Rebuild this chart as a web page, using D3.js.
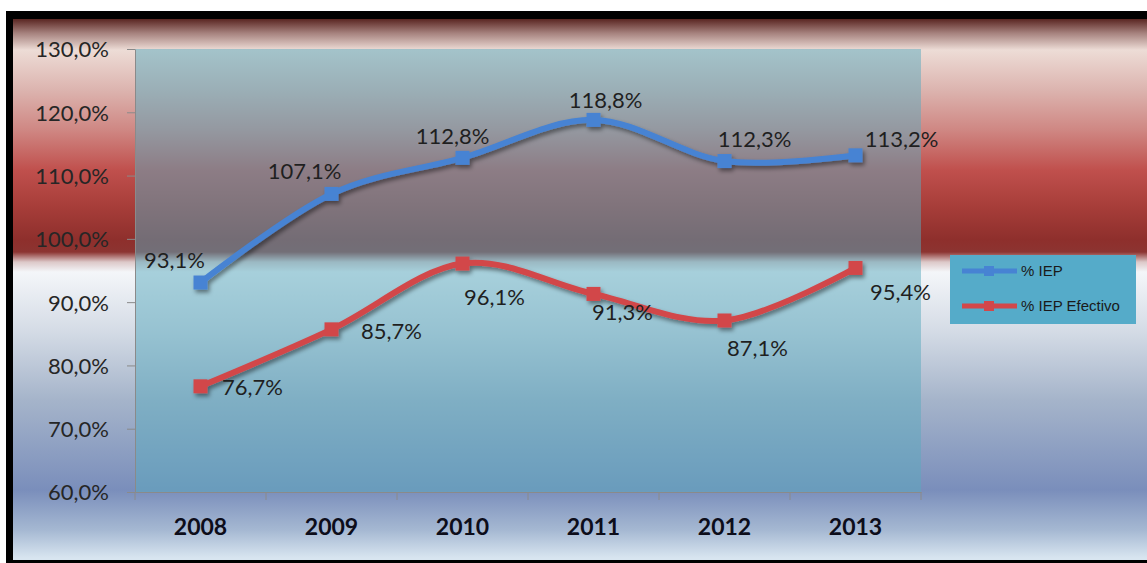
<!DOCTYPE html>
<html>
<head>
<meta charset="utf-8">
<script src="https://cdn.jsdelivr.net/npm/d3@7/dist/d3.min.js"></script>
<style>
  html, body { margin: 0; padding: 0; background: #ffffff; }
  svg { display: block; }
</style>
</head>
<body>
<svg id="chart" width="1147" height="563"></svg>
<script>
// ---- data ----
const years = ["2008", "2009", "2010", "2011", "2012", "2013"];
const iep = [93.1, 107.1, 112.8, 118.8, 112.3, 113.2];
const iepEfectivo = [76.7, 85.7, 96.1, 91.3, 87.1, 95.4];
const yTickValues = [60, 70, 80, 90, 100, 110, 120, 130];
const seriesNames = ["% IEP", "% IEP Efectivo"];

// label offsets (layout, not data)
const iepLabelOffset = [[-26, -15], [-27, -15], [-10, -14], [12, -12], [30, -14], [46, -8]];
const efLabelOffset = [[52, 9], [60, 10], [32, 41], [29, 26], [33, 36], [45, 32]];

const svg = d3.select("#chart");
const W = 1147, H = 563;
const plot = { left: 135, right: 921, top: 49, bottom: 492 };

const locale = d3.formatLocale({ decimal: ",", thousands: ".", grouping: [3], currency: ["", "€"] });
const fmt = v => locale.format(".1f")(v) + "%";

const defs = svg.append("defs");
const bg = defs.append("linearGradient").attr("id", "bgGrad")
  .attr("gradientUnits", "userSpaceOnUse").attr("x1", 0).attr("x2", 0).attr("y1", 19).attr("y2", 560);
const bgStops = [
  [19, "#5a2622"], [33, "#a5817d"], [50, "#eddcd6"], [90, "#dcb4af"], [130, "#cf8783"],
  [170, "#c0504d"], [205, "#a83e3a"], [240, "#8e2f2c"], [252, "#8c3431"], [262, "#dcc8c8"],
  [272, "#f4f6f9"], [330, "#d5dce6"], [400, "#a5b4ca"], [490, "#7a8ebb"], [530, "#a5b8d2"], [558, "#d8e5f0"]
];
bgStops.forEach(s => bg.append("stop").attr("offset", (s[0] - 19) / 541).attr("stop-color", s[1]));

const shadow = defs.append("filter").attr("id", "shadow").attr("x", "-10%").attr("y", "-10%").attr("width", "130%").attr("height", "140%");
shadow.append("feDropShadow").attr("dx", 2).attr("dy", 3).attr("stdDeviation", 2)
  .attr("flood-color", "#000").attr("flood-opacity", 0.45);

// frame
svg.append("rect").attr("x", 6).attr("y", 11).attr("width", W).attr("height", 552).attr("fill", "#000");
svg.append("rect").attr("x", 13).attr("y", 19).attr("width", W).attr("height", 541).attr("fill", "url(#bgGrad)");

// plot area overlay
svg.append("rect").attr("x", plot.left).attr("y", plot.top)
  .attr("width", plot.right - plot.left).attr("height", plot.bottom - plot.top)
  .attr("fill", "#5aaabd").attr("fill-opacity", 0.5);

const x = d3.scaleBand().domain(years).range([plot.left, plot.right]);
const cx = d => x(d) + x.bandwidth() / 2;
const y = d3.scaleLinear().domain([60, 130]).range([plot.bottom, plot.top]);

// y axis
const yAxis = svg.append("g").attr("transform", `translate(${plot.left},0)`)
  .call(d3.axisLeft(y).tickValues(yTickValues).tickFormat(fmt).tickSize(8).tickSizeOuter(0).tickPadding(18));
yAxis.select(".domain").attr("stroke", "#8a8a8a").attr("stroke-width", 1);
yAxis.selectAll(".tick line").attr("stroke", "#8a8a8a");
yAxis.selectAll(".tick text").attr("font-family", "Lato, 'Open Sans', sans-serif").attr("font-size", 22)
  .attr("fill", "#262626").attr("dy", "0.36em");

// x axis
const xAxis = svg.append("g").attr("transform", `translate(0,${plot.bottom})`)
  .call(d3.axisBottom(x).tickSize(0).tickSizeOuter(0).tickPadding(27));
xAxis.select(".domain").attr("stroke", "#8a8a8a").attr("stroke-width", 1);
xAxis.selectAll(".tick text").attr("font-family", "Lato, 'Open Sans', sans-serif").attr("font-size", 23)
  .attr("font-weight", "bold").attr("fill", "#0d0d1a");
const bounds = years.map(d => x(d)).concat([x.range()[1]]);
xAxis.selectAll("line.bound").data(bounds).join("line").attr("class", "bound")
  .attr("x1", d => d).attr("x2", d => d).attr("y1", 0).attr("y2", 8)
  .attr("stroke", "#8a8a8a").attr("stroke-width", 1);

// series
const series = [
  { name: seriesNames[0], values: iep, color: "#4783d3", offsets: iepLabelOffset },
  { name: seriesNames[1], values: iepEfectivo, color: "#d2474a", offsets: efLabelOffset }
];
const line = d3.line().x((v, i) => cx(years[i])).y(v => y(v)).curve(d3.curveCardinal.tension(0));
const ms = 14;

series.forEach(s => {
  const g = svg.append("g").attr("filter", "url(#shadow)");
  g.append("path").attr("d", line(s.values)).attr("fill", "none")
    .attr("stroke", s.color).attr("stroke-width", 6).attr("stroke-linecap", "round");
  g.selectAll("rect").data(s.values).join("rect")
    .attr("x", (v, i) => cx(years[i]) - ms / 2).attr("y", v => y(v) - ms / 2)
    .attr("width", ms).attr("height", ms).attr("fill", s.color);
});

series.forEach(s => {
  svg.append("g").selectAll("text").data(s.values).join("text")
    .attr("x", (v, i) => cx(years[i]) + s.offsets[i][0])
    .attr("y", (v, i) => y(v) + s.offsets[i][1])
    .attr("text-anchor", "middle")
    .attr("font-family", "Lato, 'Open Sans', sans-serif").attr("font-size", 22)
    .attr("fill", "#1f1f1f")
    .text(v => fmt(v));
});

// legend
const leg = svg.append("g").attr("transform", "translate(950,255)");
leg.append("rect").attr("width", 186).attr("height", 69).attr("fill", "#55abc9");
series.forEach((s, i) => {
  const ly = 16 + i * 35;
  leg.append("line").attr("x1", 12).attr("x2", 67).attr("y1", ly).attr("y2", ly)
    .attr("stroke", s.color).attr("stroke-width", 5);
  leg.append("rect").attr("x", 34).attr("y", ly - 5).attr("width", 10).attr("height", 10).attr("fill", s.color);
  leg.append("text").attr("x", 71).attr("y", ly).attr("dy", "0.35em")
    .attr("font-family", "'Liberation Sans', Arial, sans-serif").attr("font-size", 15)
    .attr("fill", "#1a1a1a").text(s.name);
});
</script>
</body>
</html>
